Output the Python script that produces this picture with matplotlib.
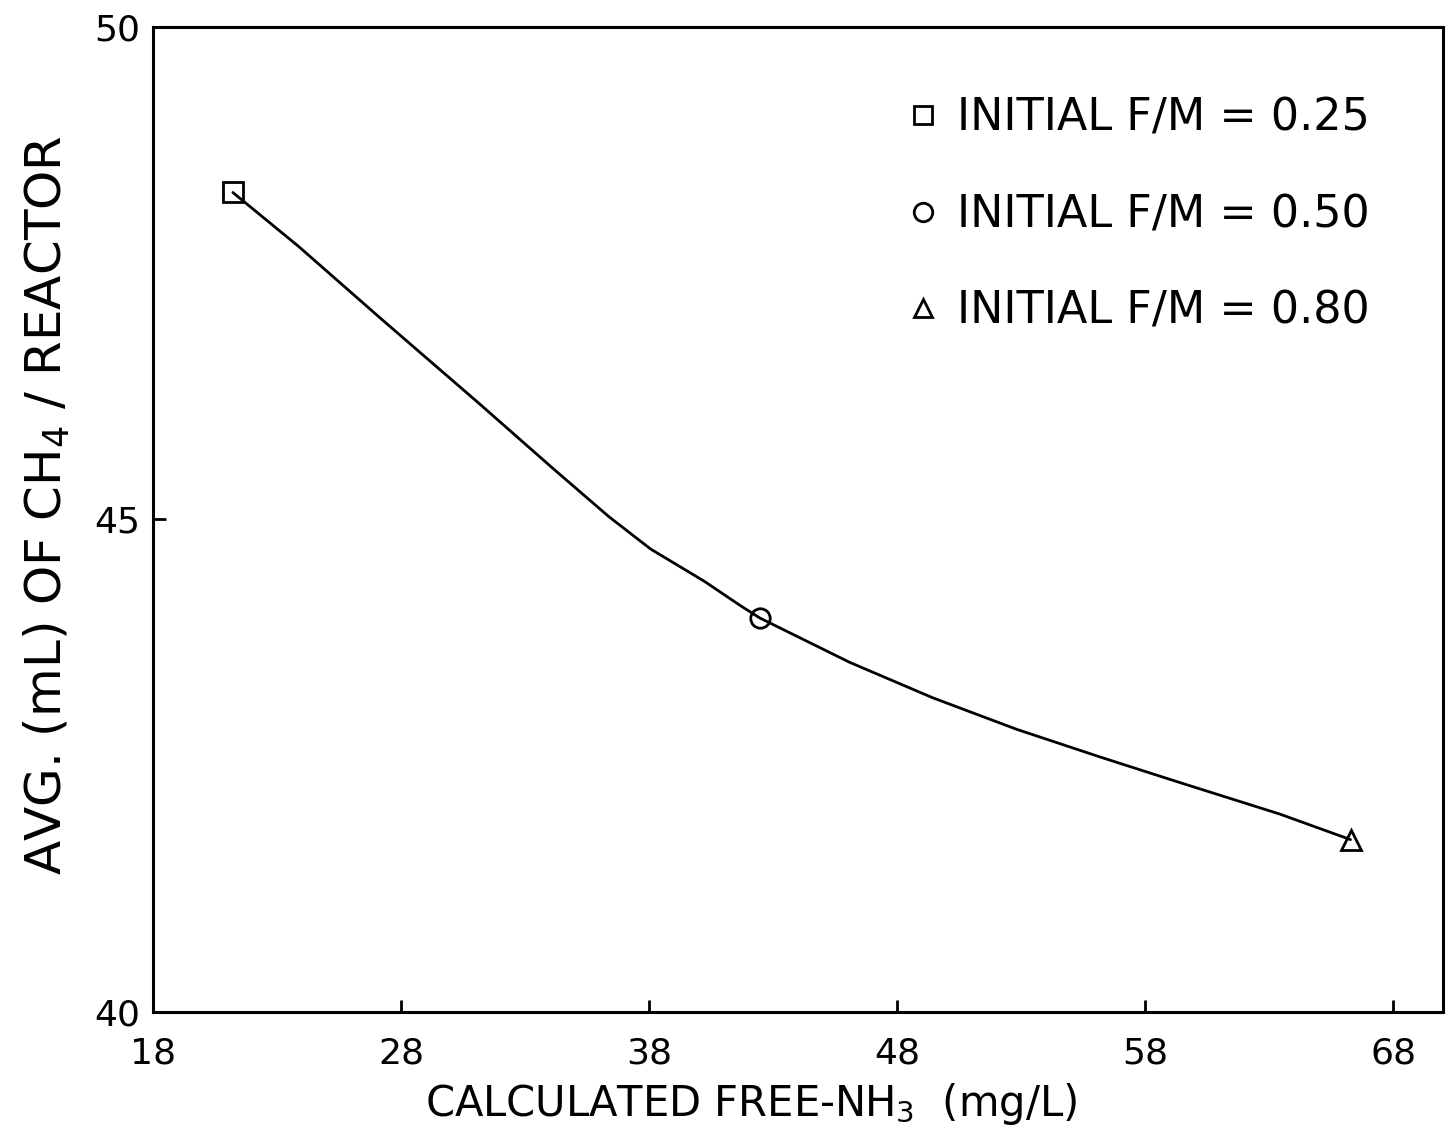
import matplotlib
matplotlib.use("Agg")
import matplotlib.pyplot as plt

plt.rcParams['font.family'] = ['DejaVu Sans']
plt.rcParams['mathtext.fontset'] = 'dejavusans'

# data
fm_labels = ['INITIAL F/M = 0.25', 'INITIAL F/M = 0.50', 'INITIAL F/M = 0.80']
fm_markers = ['s', 'o', '^']
point_x = [21.22, 42.46, 66.27]
point_y = [48.32, 44.00, 41.75]
curve_x = [21.22, 23.88, 27.23, 31.09, 34.16, 36.37, 38.06, 40.24, 41.65, 42.46,
           46.08, 49.43, 52.81, 56.16, 59.38, 63.41, 66.27]
curve_y = [48.32, 47.77, 47.03, 46.19, 45.51, 45.03, 44.70, 44.37, 44.13, 44.00,
           43.55, 43.19, 42.87, 42.59, 42.33, 42.01, 41.75]
x_ticks = [18, 28, 38, 48, 58, 68]
y_ticks = [40, 45, 50]

fig = plt.figure(figsize=(14.5, 11.35), dpi=100)
ax = fig.add_axes([0.1055, 0.1084, 0.8897, 0.8678])

ax.plot(curve_x, curve_y, color='black', lw=2.0, zorder=2,
        solid_joinstyle='round', solid_capstyle='round')
handles = []
for xv, yv, m, lab in zip(point_x, point_y, fm_markers, fm_labels):
    h, = ax.plot([xv], [yv], linestyle='none', marker=m, markersize=14,
                 markerfacecolor='none', markeredgecolor='black', markeredgewidth=2.0,
                 label=lab, zorder=3)
    handles.append(h)

ax.set_xlim(18, 70)
ax.set_ylim(40, 50)
ax.set_xticks(x_ticks)
ax.set_yticks(y_ticks)
ax.tick_params(direction='in', length=9, width=2, labelsize=26)
ax.tick_params(axis='x', pad=18)
ax.tick_params(axis='y', pad=9)
for s in ax.spines.values():
    s.set_linewidth(2.2)

ax.set_xlabel(r'CALCULATED FREE-NH$_3$  (mg/L)', fontsize=30)
ax.xaxis.set_label_coords(0.4636, -0.070)
ax.set_ylabel(r'AVG. (mL) OF CH$_4$ / REACTOR', fontsize=36)
ax.yaxis.set_label_coords(-0.063, 0.515)

leg = ax.legend(handles=handles, loc='upper left', bbox_to_anchor=(0.583, 0.929),
                frameon=False, fontsize=32, markerscale=0.95, handlelength=0.8,
                handletextpad=0.36, labelspacing=1.2, borderpad=0, borderaxespad=0)

fig.savefig('out.png', dpi=100)
